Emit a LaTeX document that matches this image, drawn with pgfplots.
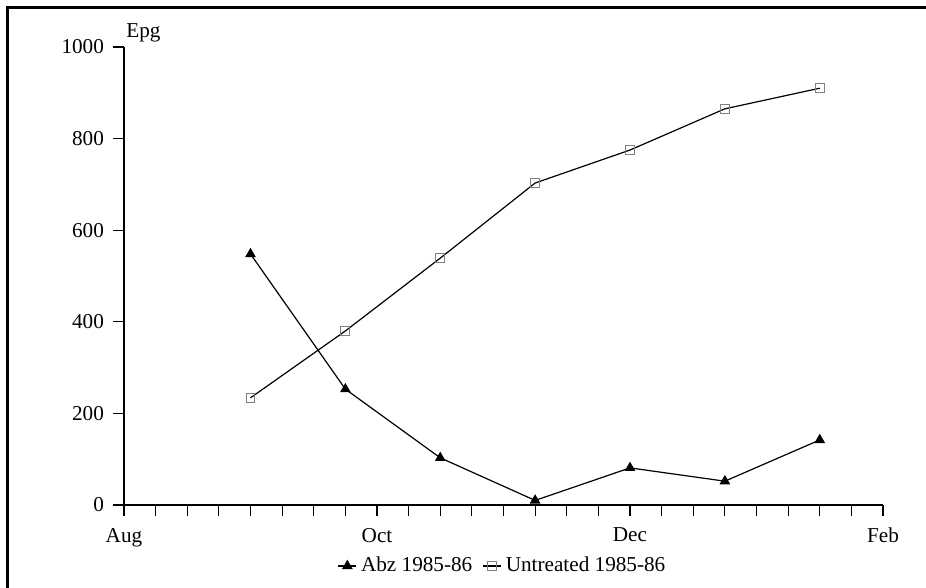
\documentclass[border=0pt]{standalone}
\usepackage{fontspec}
\setmainfont{Liberation Serif}
\usepackage{pgfplots}
\pgfplotsset{compat=1.18}
\newcommand{\chfont}{\fontsize{10.6}{12.5}\selectfont}
\begin{document}
\begin{tikzpicture}
\useasboundingbox (-62pt,-41.5pt) rectangle (401pt,252.5pt);
\draw[line width=1.1pt] (-58.25pt,-41.5pt) -- (-58.25pt,248.75pt) -- (401pt,248.75pt);
\begin{axis}[
    scale only axis,
    width=379.5pt, height=229pt,
    xmin=0, xmax=24, ymin=0, ymax=1000,
    axis lines=left,
    axis line style={-, line width=0.6pt},
    xtick={0,...,24},
    xticklabels={Aug,,,,,,,,Oct,,,,,,,,Dec,,,,,,,,Feb},
    ytick={0,200,...,1000},
    tick align=outside,
    major tick length=5.5pt,
    tick style={black, line width=0.6pt},
    /pgf/number format/assume math mode=true,
    /pgf/number format/1000 sep={},
    tick label style={font=\chfont},
    xticklabel style={yshift=-2.5pt},
    yticklabel style={xshift=-1pt},
    ylabel={Epg},
    every axis y label/.style={at={(rel axis cs:0,1)}, anchor=base west, inner sep=0pt, xshift=1pt, yshift=4.5pt, font=\chfont},
    legend style={draw=none, at={(0.5,-0.133)}, anchor=center, font=\chfont, legend columns=-1,
        /tikz/every even column/.append style={column sep=3pt}, inner sep=0pt},
    legend image code/.code={\draw[mark repeat=2,mark phase=2] plot coordinates {(0cm,0cm) (0.16cm,0cm) (0.32cm,0cm)};},
]
\addplot[black, line width=0.6pt, mark=triangle*, mark size=2.5pt, mark options={solid, fill=black}]
  coordinates {(4,548)(7,253)(10,103)(13,10)(16,81)(19,52)(22,142)};
\addlegendentry{Abz 1985-86}
\addplot[black, line width=0.6pt, mark=square, mark size=2.2pt, mark options={solid, draw=gray, fill=none, line width=0.5pt}]
  coordinates {(4,234)(7,380)(10,539)(13,703)(16,775)(19,865)(22,910)};
\addlegendentry{Untreated 1985-86}
\end{axis}
\end{tikzpicture}
\end{document}
